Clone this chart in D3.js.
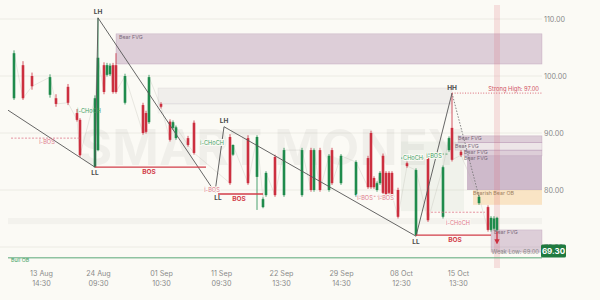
<!DOCTYPE html>
<html><head><meta charset="utf-8">
<script src="https://cdn.jsdelivr.net/npm/d3@7"></script>
<style>html,body{margin:0;padding:0;background:#fbfaf5;}svg{display:block;font-family:Inter,"Open Sans",sans-serif;}</style>
</head><body><svg id="c" width="600" height="300"></svg>
<script>
// ---------- data ----------
const candleBar   = [2,5,8,14,16,20,23,24,29,30,32,33,34,35,36,39,45,46,47,51,54,55,56,60,62,74,75,80,83,85,86,89,92,98,101,102,104,107,108,111,116,120,121,122,123,124,125,126,127,128,130,133,136,140,145,147,148,151,157,160,161,162,163];
const candleOpen  = [96.1,101.9,100.0,96.7,96.1,98.1,93.5,92.3,84.0,87.0,101.9,100.2,100.3,101.9,101.9,95.3,94.9,93.5,91.9,95.1,92.0,90.9,89.1,89.1,91.8,89.3,86.2,89.1,82.3,77.0,79.1,85.8,79.1,79.1,87.0,80.0,87.0,80.0,87.0,81.2,79.1,85.6,90.0,82.1,80.0,81.2,86.0,83.0,83.0,83.0,80.0,84.7,72.1,85.6,75.3,87.0,90.9,86.7,77.7,77.0,73.0,73.2,73.0];
const candleHigh  = [104.5,102.6,100.6,100.3,96.8,98.6,94.2,92.6,96.6,110.2,102.4,102.3,102.2,102.3,104.0,100.4,95.3,93.9,100.2,95.4,92.4,92.2,91.3,89.5,92.2,89.8,88.0,89.6,89.6,78.7,83.3,86.2,87.4,87.4,87.4,87.3,87.4,86.3,87.4,86.3,85.2,86.0,90.4,82.4,81.5,83.3,86.4,83.3,83.3,83.3,80.4,85.0,83.8,86.0,84.3,89.4,97.0,87.0,79.1,77.3,75.4,75.4,75.3];
const candleLow   = [95.8,95.8,97.6,96.2,94.6,94.9,92.0,85.8,84.0,86.8,96.8,99.9,100.0,96.9,96.9,95.0,89.7,89.9,91.6,94.3,88.5,90.6,88.8,87.6,86.2,80.9,86.0,80.9,76.5,76.8,78.8,78.8,78.8,78.8,79.7,79.7,79.7,79.7,80.9,80.9,78.8,80.2,80.2,80.2,79.7,80.9,79.2,78.8,79.2,78.8,75.0,83.9,71.9,74.4,75.0,86.7,85.0,85.8,77.4,72.7,72.7,72.9,72.7];
const candleClose = [104.0,96.1,98.2,99.8,95.1,95.3,92.3,86.1,96.1,103.2,97.2,101.9,101.8,97.2,97.2,100.0,90.0,90.2,99.8,94.6,88.8,91.9,91.0,87.9,86.5,81.2,87.9,81.2,89.3,78.4,83.0,79.1,87.0,87.0,80.0,87.0,80.0,86.0,81.2,86.0,84.9,80.5,80.5,80.5,81.2,83.0,79.5,79.1,79.5,79.1,75.3,84.2,83.5,74.7,84.0,89.1,85.3,86.1,78.8,73.0,75.1,75.0,75.1];

const priceTicks = [110,100,90,80,70];
const timeTickBars  = [11,30,51,71,91,111,131,150];
const timeTickDates = ["13 Aug","24 Aug","01 Sep","11 Sep","22 Sep","29 Sep","08 Oct","15 Oct"];
const timeTickTimes = ["14:30","09:30","10:30","09:30","13:30","14:30","12:30","13:30"];
const lastPrice = 69.30;
const lastBar = 163;
const strongHigh = 97.00;
const weakLow = 69.00;
const bullOB = 68.1;

// swing structure
const swingBars   = [0,29,30,69,72,136,148];
const swingPrices = [94.0,84.0,110.2,79.6,91.1,71.9,97.0];
const pendingBars = [148,157];
const pendingPrices = [97.0,78.8];

// zones
const zoneStart  = [0,36,50,50,149,150,152,153,155,161];
const zoneEnd    = [178,178,148,148,178,178,178,178,178,178];
const zoneTop    = [75.1,107.4,97.9,95.1,88.3,89.5,87.0,86.0,80.0,73.0];
const zoneBottom = [74.0,102.1,95.1,93.5,87.0,88.3,86.0,80.0,77.4,69.1];
const zoneKind   = ["band","bear","grey","grey2","bear2","bear","bear","bearD","ob","bear"];

// structure breaks
const breakStart = [29,70,136,1,116,131,140,141,65];
const breakEnd   = [66,85,161,24,129,139,147,159,72];
const breakPrice = [84.0,79.3,72.1,89.1,78.9,85.6,86.3,76.1,88.2];
const breakKind  = ["BOS","BOS","BOS","iBear","iBear","bull","bull","iBear","bull"];

// labels
const labelText  = ["LH","LL","BOS","LH","LL","BOS","HH","LL","BOS","i-BOS","i-BOS","i-CHoCH","i-CHoCH","i-BOS","i-BOS","CHoCH","i-BOS","i-CHoCH","Bear FVG","Bear FVG","Bear FVG","Bear FVG","Bear FVG","Bear FVG","Bearish Bear OB","Bull OB"];
const labelBar   = [30,29,47,72,70,77,148,136,149,13,68,27,68,119,126,135,142,150,37,150,149,152,152,162,155,1];
const labelPrice = [110.2,84.0,84.0,91.1,79.6,79.3,97.0,71.9,72.1,89.1,80.0,93.9,88.2,78.6,78.6,85.6,86.0,74.2,106.8,89.1,87.7,86.7,85.6,72.6,79.4,67.8];
const labelKind  = ["top","bot","bos","top","bot","bos","top","bot","bos","ibear","ibearc","ibull","ibullc","ibearc","ibearc","ibullc","ibullc","ibearc","zone","zone","zone","zone","zone","zone","zoneo","bull"];

// ---------- drawing ----------
const W = 600, H = 300;
const svg = d3.select("#c");
const x = d3.scaleLinear().domain([0,178]).range([8,542]);
const y = d3.scaleLinear().domain([70,110]).range([247,19]);
const bg = "#fbfaf5";
const GREEN = "#1f8b4c", RED = "#cc2f3f", PINK = "#e0788a", LGREEN = "#3f9f63", DARK = "#4a4a4a";

svg.append("rect").attr("width",W).attr("height",H).attr("fill",bg);

// gridlines
svg.append("g").selectAll("line").data(priceTicks).join("line")
  .attr("x1",0).attr("x2",x(178)).attr("y1",d=>y(d)).attr("y2",d=>y(d))
  .attr("stroke","#ecebe4").attr("stroke-width",1);

// watermark
svg.append("text").attr("x",272).attr("y",y(84.4)).attr("text-anchor","middle")
  .attr("font-size",50).attr("font-weight",700).attr("fill","#000").attr("fill-opacity",0.045)
  .attr("font-family","Inter, sans-serif").text("SMART MONEY");

// zones
const zoneFill = {band:"rgba(0,0,0,0.03)", bear:"rgba(140,90,140,0.27)", bear2:"rgba(140,90,140,0.12)", bearD:"rgba(140,90,140,0.40)", grey:"rgba(120,105,130,0.08)", grey2:"rgba(120,105,130,0.045)", ob:"rgba(245,185,110,0.35)"};
const zoneStroke = {band:"none", bear:"rgba(140,90,140,0.35)", bear2:"rgba(140,90,140,0.3)", bearD:"none", grey:"rgba(120,105,130,0.16)", grey2:"rgba(120,105,130,0.12)", ob:"none"};
const zones = zoneStart.map((s,i)=>({s, e:zoneEnd[i], t:zoneTop[i], b:zoneBottom[i], k:zoneKind[i]}));
svg.append("g").selectAll("rect").data(zones).join("rect")
  .attr("x",d=>x(d.s)).attr("width",d=>x(d.e)-x(d.s))
  .attr("y",d=>y(d.t)).attr("height",d=>y(d.b)-y(d.t))
  .attr("fill",d=>zoneFill[d.k]).attr("stroke",d=>zoneStroke[d.k]).attr("stroke-width",0.5);

// faint bull zone behind recent structure
svg.append("rect").attr("x",x(131)).attr("width",x(152)-x(131)).attr("y",y(88.5)).attr("height",y(76.3)-y(88.5))
  .attr("fill","rgba(150,175,150,0.10)");

// last bar highlight band
svg.append("rect").attr("x",x(lastBar)-3).attr("width",6).attr("y",5).attr("height",263)
  .attr("fill","rgba(220,90,105,0.17)");

// bull OB line
svg.append("line").attr("x1",x(0)).attr("x2",x(178)).attr("y1",y(bullOB)).attr("y2",y(bullOB))
  .attr("stroke","#5aa878").attr("stroke-width",1);

// faint close line
const closeLine = d3.line().x((d,i)=>x(candleBar[i])).y(d=>y(d));
svg.append("path").attr("d",closeLine(candleClose)).attr("fill","none")
  .attr("stroke","#b8b8b0").attr("stroke-width",0.5).attr("stroke-opacity",0.6);

// candles
const candles = candleBar.map((b,i)=>({b,o:candleOpen[i],h:candleHigh[i],l:candleLow[i],c:candleClose[i]}));
const cg = svg.append("g");
cg.selectAll("line").data(candles).join("line")
  .attr("x1",d=>x(d.b)).attr("x2",d=>x(d.b)).attr("y1",d=>y(d.h)).attr("y2",d=>y(d.l))
  .attr("stroke",d=>d.c>=d.o?GREEN:RED).attr("stroke-width",0.8);
cg.selectAll("rect").data(candles).join("rect")
  .attr("x",d=>x(d.b)-1.3).attr("width",2.6)
  .attr("y",d=>y(Math.max(d.o,d.c))).attr("height",d=>Math.max(1,Math.abs(y(d.o)-y(d.c))))
  .attr("fill",d=>d.c>=d.o?GREEN:RED);

// swing zigzag
const zz = d3.line().x(d=>x(d[0])).y(d=>y(d[1]));
svg.append("path").attr("d",zz(swingBars.map((b,i)=>[b,swingPrices[i]]))).attr("fill","none")
  .attr("stroke","#555").attr("stroke-width",0.9);
svg.append("path").attr("d",zz(pendingBars.map((b,i)=>[b,pendingPrices[i]]))).attr("fill","none")
  .attr("stroke","#777").attr("stroke-width",0.9).attr("stroke-dasharray","1.5,1.5");

// structure breaks
const brk = breakStart.map((s,i)=>({s,e:breakEnd[i],p:breakPrice[i],k:breakKind[i]}));
svg.append("g").selectAll("line").data(brk).join("line")
  .attr("x1",d=>x(d.s)).attr("x2",d=>x(d.e)).attr("y1",d=>y(d.p)).attr("y2",d=>y(d.p))
  .attr("stroke",d=>d.k==="BOS"?"#d23c48":d.k==="bull"?LGREEN:PINK)
  .attr("stroke-width",d=>d.k==="BOS"?1.3:0.8)
  .attr("stroke-dasharray",d=>d.k==="BOS"?null:"2,1.5");

// strong high / weak low
svg.append("line").attr("x1",x(148)).attr("x2",x(178)).attr("y1",y(strongHigh)).attr("y2",y(strongHigh))
  .attr("stroke","#d65a6a").attr("stroke-width",0.9).attr("stroke-dasharray","1,1.6");
svg.append("text").attr("x",x(178)-3).attr("y",y(strongHigh)-2).attr("text-anchor","end")
  .attr("font-size",5.8).attr("fill","#d0505f").text("Strong High: "+strongHigh.toFixed(2));
svg.append("text").attr("x",x(178)-3).attr("y",y(weakLow)+1.5).attr("text-anchor","end")
  .attr("font-size",5.8).attr("fill","#8a8a8a").text("Weak Low: "+weakLow.toFixed(2));

// labels
const labStyle = {
  top:{dy:-3.5,c:DARK,fs:6.5,fw:700,a:"middle"},
  bot:{dy:7.5,c:DARK,fs:6.5,fw:700,a:"middle"},
  bos:{dy:7,c:"#d23c48",fs:6.5,fw:700,a:"middle"},
  ibear:{dy:6,c:PINK,fs:5.6,fw:400,a:"middle"},
  ibearc:{dy:2,c:PINK,fs:5.6,fw:400,a:"middle"},
  ibull:{dy:2,c:LGREEN,fs:5.6,fw:400,a:"middle"},
  ibullc:{dy:2,c:LGREEN,fs:5.6,fw:400,a:"middle"},
  zone:{dy:2,c:"#7a6a7a",fs:5.3,fw:400,a:"start"},
  zoneo:{dy:2,c:"#a08060",fs:5.3,fw:400,a:"start"},
  bull:{dy:2,c:"#3f9f63",fs:5.3,fw:400,a:"start"}
};
const labs = labelText.map((t,i)=>({t,b:labelBar[i],p:labelPrice[i],k:labelKind[i]}));
svg.append("g").selectAll("text").data(labs).join("text")
  .attr("x",d=>x(d.b)).attr("y",d=>y(d.p)+labStyle[d.k].dy)
  .attr("text-anchor",d=>labStyle[d.k].a).attr("font-size",d=>labStyle[d.k].fs)
  .attr("font-weight",d=>labStyle[d.k].fw).attr("fill",d=>labStyle[d.k].c)
  .attr("paint-order","stroke").attr("stroke",d=>(d.k==="ibearc"||d.k==="ibullc")?bg:"none").attr("stroke-width",2)
  .text(d=>d.t);

// arrow
svg.append("defs").append("marker").attr("id","ah").attr("viewBox","0 0 10 10").attr("refX",5).attr("refY",5)
  .attr("markerWidth",4).attr("markerHeight",4).attr("orient","auto")
  .append("path").attr("d","M0,0L10,5L0,10Z").attr("fill","#cc2f3f");
svg.append("line").attr("x1",x(lastBar)).attr("x2",x(lastBar)).attr("y1",y(72.7)).attr("y2",y(70.9))
  .attr("stroke","#cc2f3f").attr("stroke-width",1.3).attr("marker-end","url(#ah)");

// y axis
const ya = svg.append("g").attr("transform",`translate(${x(178)},0)`)
  .call(d3.axisRight(y).tickValues(priceTicks).tickSize(0).tickPadding(2).tickFormat(d3.format(".2f")));
ya.select(".domain").remove();
ya.selectAll("text").attr("font-size",7.2).attr("fill","#8a8a8a").attr("font-family","Inter, sans-serif");

// last price tag
svg.append("rect").attr("x",x(178)-1).attr("y",y(lastPrice)-6.5).attr("width",25).attr("height",13).attr("rx",1.5)
  .attr("fill","#1f7a3f");
svg.append("text").attr("x",x(178)+11.5).attr("y",y(lastPrice)+3).attr("text-anchor","middle")
  .attr("font-size",8).attr("font-weight",700).attr("fill","#fff").text(lastPrice.toFixed(2));

// x axis
const xa = svg.append("g").attr("transform","translate(0,268)")
  .call(d3.axisBottom(x).tickValues(timeTickBars).tickSize(0).tickPadding(0).tickFormat(()=>""));
xa.select(".domain").remove();
xa.selectAll(".tick text").each(function(d,i){
  const t = d3.select(this).attr("font-size",7.2).attr("fill","#8a8a8a").attr("font-family","Inter, sans-serif").attr("dy",null).attr("y",8);
  t.append("tspan").attr("x",0).attr("dy",0).text(timeTickDates[i]);
  t.append("tspan").attr("x",0).attr("dy",9.5).text(timeTickTimes[i]);
});
</script></body></html>
